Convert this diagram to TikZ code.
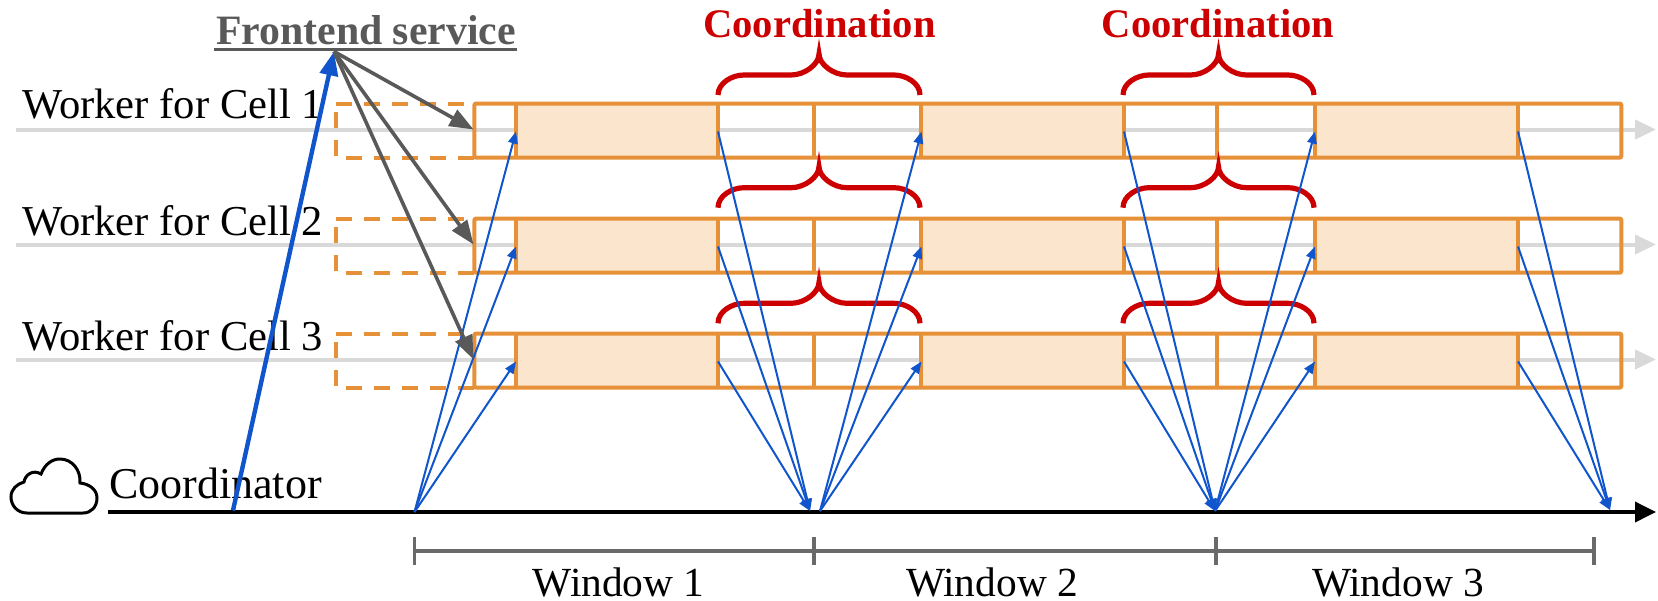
\documentclass[tikz,border=0pt]{standalone}
\usepackage{fontspec}
\setmainfont{Liberation Serif}
\usetikzlibrary{arrows.meta}

\definecolor{cellorange}{HTML}{E69138}
\definecolor{cellfill}{HTML}{FCE5CD}
\definecolor{bracered}{HTML}{CC0000}
\definecolor{msgblue}{HTML}{1155CC}
\definecolor{frontgray}{HTML}{595959}
\definecolor{lanegray}{HTML}{D9D9D9}

\tikzset{
  lbl/.style={inner sep=0, anchor=base, font=\fontsize{21.3}{24}\selectfont},
  lane/.style={lanegray, line width=2pt, -{Triangle[length=10.5pt,width=9.5pt]}},
  cell/.style={cellorange, line width=2pt},
  dashcell/.style={cell, dash pattern=on 8.2pt off 5.8pt},
  msg/.style={msgblue, line width=1pt, -{Triangle[length=6pt,width=4.8pt]}},
  bigmsg/.style={msgblue, line width=2.2pt, -{Triangle[length=12pt,width=9pt]}},
  frontmsg/.style={frontgray, line width=1.8pt, -{Triangle[length=12pt,width=9pt]}},
  bracket/.style={bracered, line width=2.6pt},
  ticks/.style={frontgray!90!white, line width=1.8pt}
}

\newcommand{\coordbrace}[3]{% left x, right x, y offset
  \pgfmathsetmacro{\bmid}{(#1+#2)/2}
  \draw[bracket] (#1,95+#3) .. controls +(0,-12) and +(-12,0) .. (#1+26,75+#3)
    -- (\bmid-28,75+#3) .. controls +(14,0) and +(0,10) .. (\bmid,54+#3)
    .. controls +(0,10) and +(-14,0) .. (\bmid+28,75+#3)
    -- (#2-26,75+#3) .. controls +(12,0) and +(0,-12) .. (#2,95+#3);
}

\begin{document}
\begin{tikzpicture}[x=0.5pt, y=-0.5pt]
\useasboundingbox (0,0) rectangle (1658,600);

\coordinate (front) at (334,51.5);
\coordinate (coordstart) at (108,512);
\coordinate (coordend) at (1656,512);
\coordinate (t0) at (414.5,512);
\coordinate (t1) at (810,511);
\coordinate (t2) at (820,511);
\coordinate (t3) at (1215,511);
\coordinate (t4) at (1610,510);
\coordinate (thick) at (233,510.5);

% the three workers
\foreach \r/\ytop/\ylbl in {1/103.5/118, 2/218.5/235, 3/333.5/350} {
  \pgfmathsetmacro{\ymid}{\ytop+26}
  \pgfmathsetmacro{\ybot}{\ytop+54.2}
  \pgfmathsetmacro{\ymsg}{\ytop+28}

  \node[lbl, anchor=base west] (worker\r) at (22,\ylbl) {Worker for Cell \r};

  \coordinate (lanestart\r) at (16,\ymid);
  \coordinate (laneend\r) at (1656,\ymid);
  \draw[lane] (lanestart\r) -- (laneend\r);

  \fill[cellfill] (515.7,\ytop) rectangle (717.9,\ybot);
  \fill[cellfill] (920.7,\ytop) rectangle (1124,\ybot);
  \fill[cellfill] (1315,\ytop) rectangle (1518,\ybot);

  \draw[cell, rounded corners=1pt] (474.3,\ytop) rectangle (1621.4,\ybot);
  \foreach \x in {515.7, 717.9, 813.9, 920.7, 1124, 1216.6, 1315, 1518} {
    \draw[cell] (\x,\ytop) -- (\x,\ybot);
  }
  \draw[dashcell] (336,\ytop) -- (474.3,\ytop);
  \draw[dashcell] (474.3,\ybot) -- (336,\ybot) -- (336,\ytop);

  \coordinate (a\r) at (516,\ymsg);
  \coordinate (b\r) at (718,\ymsg);
  \coordinate (c\r) at (921.5,\ymsg);
  \coordinate (d\r) at (1124,\ymsg);
  \coordinate (e\r) at (1315,\ymsg);
  \coordinate (f\r) at (1518,\ymsg);
  \coordinate (g\r) at (473.6,\ymid);
}

% braces
\foreach \off in {0, 112.7, 228.3} {
  \coordbrace{718}{920}{\off}
  \coordbrace{1123}{1314}{\off}
}

\node[lbl, font=\fontsize{20.3}{24}\selectfont\bfseries, bracered] (coord1) at (819.5,37.8) {Coordination};
\node[lbl, font=\fontsize{20.3}{24}\selectfont\bfseries, bracered] (coord2) at (1218,37.8) {Coordination};

% frontend
\node[lbl, font=\fontsize{20.9}{24}\selectfont\bfseries, frontgray] (frontend) at (366,44.5) {Frontend service};
\coordinate (ulstart) at (214.3,49.5);
\coordinate (ulend) at (517,49.5);
\draw[frontgray, line width=1.6pt] (ulstart) -- (ulend);

% coordinator
\draw[black, line width=1.5pt] (27,513) .. controls (17,513) and (11,505) .. (11,497)
  .. controls (11,489) and (17,484) .. (24,482)
  .. controls (25,475) and (33,469) .. (41,474)
  .. controls (45,464) and (52,459) .. (60,459)
  .. controls (72,459) and (81,470) .. (80,483)
  .. controls (90,484) and (97,490) .. (97,498)
  .. controls (97,507) and (91,513) .. (83,513) -- cycle;
\node[lbl, anchor=base west, font=\fontsize{22}{24}\selectfont] (coordinator) at (108.6,498.5) {Coordinator};
\draw[black, line width=1.8pt, -{Triangle[length=10.5pt,width=10pt]}] (coordstart) -- (coordend);

% messages
\draw[bigmsg] (thick) -- (front);
\foreach \r in {1,2,3} {
  \draw[frontmsg] (front) -- (g\r);
  \draw[msg] (t0) -- (a\r);
  \draw[msg] (b\r) -- (t1);
  \draw[msg] (t2) -- (c\r);
  \draw[msg] (d\r) -- (t3);
  \draw[msg] (t3) -- (e\r);
  \draw[msg] (f\r) -- (t4);
}

% windows
\foreach \n/\x in {0/414.3, 1/814, 2/1216, 3/1594} {
  \coordinate (tick\n) at (\x,551);
  \draw[ticks] (\x,537) -- (\x,565);
}
\draw[ticks] (tick0) -- (tick3);
\node[lbl, font=\fontsize{20.7}{24}\selectfont] (window1) at (618.6,596) {Window 1};
\node[lbl, font=\fontsize{20.7}{24}\selectfont] (window2) at (992,596) {Window 2};
\node[lbl, font=\fontsize{20.7}{24}\selectfont] (window3) at (1398,596) {Window 3};

\end{tikzpicture}
\end{document}
